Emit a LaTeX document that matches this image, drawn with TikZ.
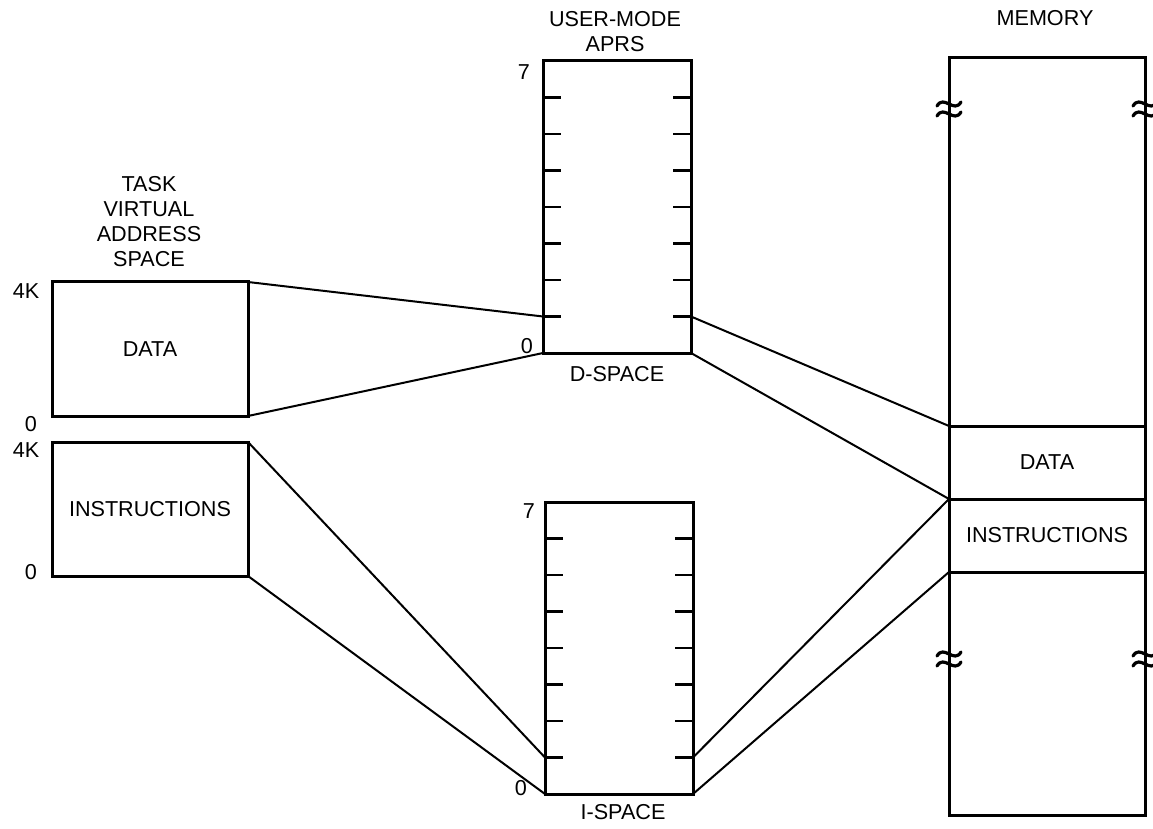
\documentclass[tikz,border=0pt]{standalone}
\usepackage{fontspec}
\setmainfont{Liberation Sans}
\usetikzlibrary{positioning,calc}

\newcommand\lbl{\fontsize{10.8}{12.5}\selectfont}
\newcommand\brk[1]{%
  \draw[brkline, shift={(#1)}]
    (-12,-2) .. controls (-5,-14) and (5,6) .. (12,-6)
    (-12,8) .. controls (-5,-4) and (5,16) .. (12,4);}

\tikzset{
  box/.style={rectangle, draw, line width=1.5pt, outer sep=0pt, inner sep=0pt, font=\lbl},
  vbox/.style={box, minimum width=98pt, minimum height=67pt},
  apr/.style={box, minimum width=74pt, minimum height=146pt},
  mem/.style={box, minimum width=98pt},
  aprtick/.style={line width=1.3pt},
  link/.style={line width=1pt},
  brkline/.style={line width=1.6pt, line cap=round},
  txt/.style={font=\lbl, inner sep=0pt, align=center},
}

\begin{document}
\begin{tikzpicture}[x=0.5pt, y=-0.5pt]
    \useasboundingbox (0,0) rectangle (1153,829);

    % task virtual address space
    \node[txt] (tasklbl) at (149,222) {TASK\\VIRTUAL\\ADDRESS\\SPACE};
    \node[vbox] (dat) at (150,349) {DATA};
    \node[vbox] (ins) at (150,509) {INSTRUCTIONS};
    \node[txt] (dat4k) at (26,291) {4K};
    \node[txt] (dat0) at (31,424) {0};
    \node[txt] (ins4k) at (26,450) {4K};
    \node[txt] (ins0) at (31,572) {0};

    % user-mode aprs
    \node[txt] (aprlbl) at (615,32) {USER-MODE\\APRS};
    \node[apr] (dsp) at (617,207) {};
    \node[apr] (isp) at (619,648) {};
    \node[txt] (dsplbl) at (617,374) {D-SPACE};
    \node[txt] (isplbl) at (623,812) {I-SPACE};
    \node[txt] (dsp7) at (524,72) {7};
    \node[txt] (dsp0) at (527,346) {0};
    \node[txt] (isp7) at (529,511) {7};
    \node[txt] (isp0) at (521,788) {0};
    \foreach \s in {dsp,isp}
        \foreach \k in {1,...,7} {
            \coordinate (\s l\k) at ($(\s.south west)!\k/8!(\s.north west)$);
            \coordinate (\s r\k) at ($(\s.south east)!\k/8!(\s.north east)$);
            \draw[aprtick] (\s l\k) -- ++(18,0);
            \draw[aprtick] (\s r\k) -- ++(-18,0);
        };

    % memory
    \node[txt] (memlbl) at (1045,18) {MEMORY};
    \node[mem, minimum height=36.5pt] (mdat) at (1047,462.5) {DATA};
    \node[mem, minimum height=36.5pt, below=0pt of mdat] (mins) {INSTRUCTIONS};
    \node[mem, minimum height=184pt, above=0pt of mdat] (mtop) {};
    \node[mem, minimum height=121.5pt, below=0pt of mins] (mbot) {};
    \brk{949,108}
    \brk{1145,108}
    \brk{949,658}
    \brk{1145,658}

    % mapping lines
    \draw[link] (dat.north east) -- (dspl1);
    \draw[link] (dat.south east) -- (dsp.south west);
    \draw[link] (dspr1) -- (mdat.north west);
    \draw[link] (dsp.south east) -- (mdat.south west);
    \draw[link] (ins.north east) -- (ispl1);
    \draw[link] (ins.south east) -- (isp.south west);
    \draw[link] (ispr1) -- (mins.north west);
    \draw[link] (isp.south east) -- (mins.south west);
\end{tikzpicture}
\end{document}
